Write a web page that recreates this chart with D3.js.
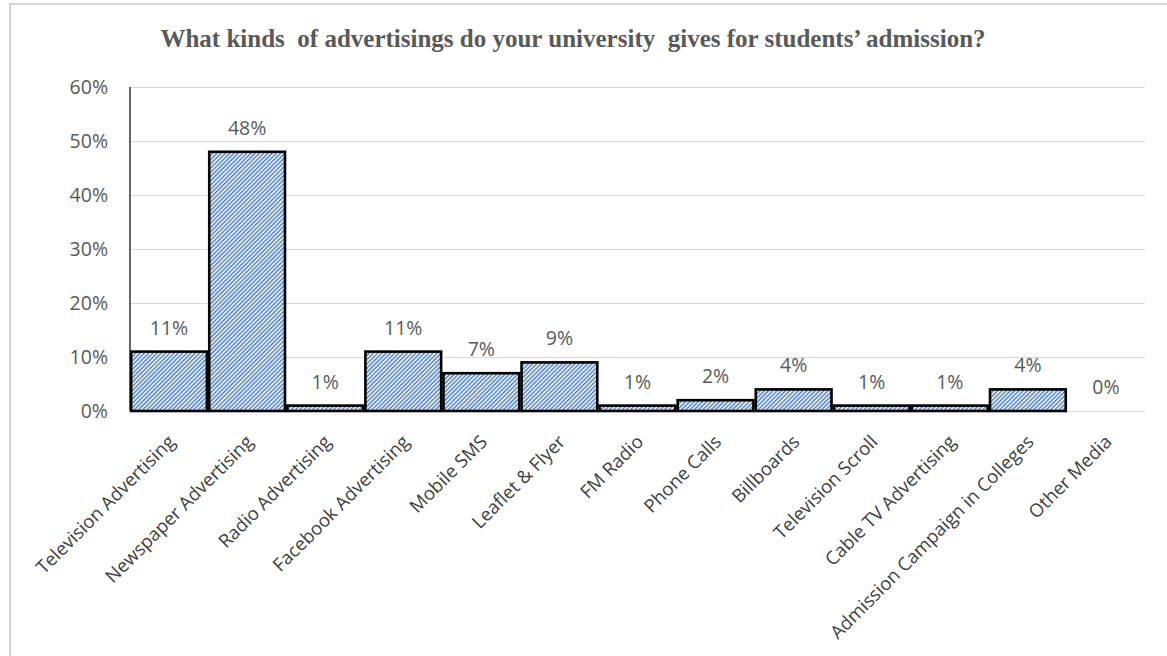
<!DOCTYPE html>
<html>
<head>
<meta charset="utf-8">
<script src="https://cdn.jsdelivr.net/npm/d3@7"></script>
<style>
  html, body { margin: 0; padding: 0; background: #fff; }
  svg { display: block; }
</style>
</head>
<body>
<svg id="chart" width="1167" height="656"></svg>
<script>
// Survey: advertising channels used for student admission (share of responses)
const categories = [
  "Television Advertising", "Newspaper Advertising", "Radio Advertising",
  "Facebook Advertising", "Mobile SMS", "Leaflet & Flyer", "FM Radio",
  "Phone Calls", "Billboards", "Television Scroll", "Cable TV Advertising",
  "Admission Campaign in Colleges", "Other Media"
];
const shares = [0.11, 0.48, 0.01, 0.11, 0.07, 0.09, 0.01, 0.02, 0.04, 0.01, 0.01, 0.04, 0.00];
const yTicks = [0, 0.1, 0.2, 0.3, 0.4, 0.5, 0.6];
const title = "What kinds  of advertisings do your university  gives for students\u2019 admission?";

const svg = d3.select("#chart");
const W = 1167, H = 656;
const plot = { left: 130, right: 1145, top: 87, bottom: 411 };

// diagonal hatch fill for the bars
const defs = svg.append("defs");
const pat = defs.append("pattern")
  .attr("id", "hatch")
  .attr("patternUnits", "userSpaceOnUse")
  .attr("width", 3).attr("height", 3)
  .attr("patternTransform", "rotate(45)");
pat.append("rect").attr("width", 3).attr("height", 3).attr("fill", "#ffffff");
pat.append("rect").attr("width", 1.5).attr("height", 3).attr("fill", "#4a7cc4");

// outer frame of the chart area
svg.append("rect")
  .attr("x", 10).attr("y", 4)
  .attr("width", W + 20).attr("height", H + 20)
  .attr("fill", "#ffffff")
  .attr("stroke", "#d6d6d6").attr("stroke-width", 2);

const x = d3.scaleBand()
  .domain(categories)
  .range([plot.left, plot.right])
  .paddingInner(0.03)
  .paddingOuter(0.015);

const y = d3.scaleLinear()
  .domain([0, 0.6])
  .range([plot.bottom, plot.top]);

// title
svg.append("text")
  .attr("x", 573).attr("y", 47)
  .attr("text-anchor", "middle")
  .style("white-space", "pre")
  .attr("font-family", "'Liberation Serif', 'Times New Roman', serif")
  .attr("font-weight", "bold")
  .attr("font-size", 25)
  .attr("fill", "#595959")
  .text(title);

// horizontal gridlines + y tick labels
const yAxis = d3.axisLeft(y)
  .tickValues(yTicks)
  .tickFormat(d3.format(".0%"))
  .tickSize(-(plot.right - plot.left))
  .tickPadding(22);

const gy = svg.append("g")
  .attr("transform", `translate(${plot.left},0)`)
  .call(yAxis);
gy.select(".domain").remove();
gy.selectAll(".tick line").attr("stroke", "#d9d9d9").attr("stroke-width", 1);
gy.selectAll(".tick text")
  .attr("font-family", "'Open Sans', sans-serif")
  .attr("font-size", 19.5)
  .attr("fill", "#595959");

// bars
svg.append("g")
  .selectAll("rect")
  .data(shares)
  .join("rect")
  .attr("x", (d, i) => x(categories[i]))
  .attr("y", d => y(d))
  .attr("width", x.bandwidth())
  .attr("height", d => y(0) - y(d))
  .attr("fill", "url(#hatch)")
  .attr("stroke", "#000")
  .attr("stroke-width", 2.6);

// vertical axis line
svg.append("line")
  .attr("x1", plot.left).attr("x2", plot.left)
  .attr("y1", plot.top).attr("y2", plot.bottom)
  .attr("stroke", "#000").attr("stroke-width", 1.2);

// value labels above bars
svg.append("g")
  .selectAll("text")
  .data(shares)
  .join("text")
  .attr("x", (d, i) => x(categories[i]) + x.bandwidth() / 2)
  .attr("y", d => y(d) - 17)
  .attr("text-anchor", "middle")
  .attr("font-family", "'Open Sans', sans-serif")
  .attr("font-size", 19.5)
  .attr("fill", "#595959")
  .text(d => d3.format(".0%")(d));

// rotated category labels
svg.append("g")
  .selectAll("text")
  .data(categories)
  .join("text")
  .attr("transform", d => `translate(${x(d) + x.bandwidth() / 2 + 7},${plot.bottom + 32}) rotate(-45)`)
  .attr("text-anchor", "end")
  .attr("font-family", "'Open Sans', sans-serif")
  .attr("font-size", 18.5)
  .attr("fill", "#404040")
  .text(d => d);
</script>
</body>
</html>
